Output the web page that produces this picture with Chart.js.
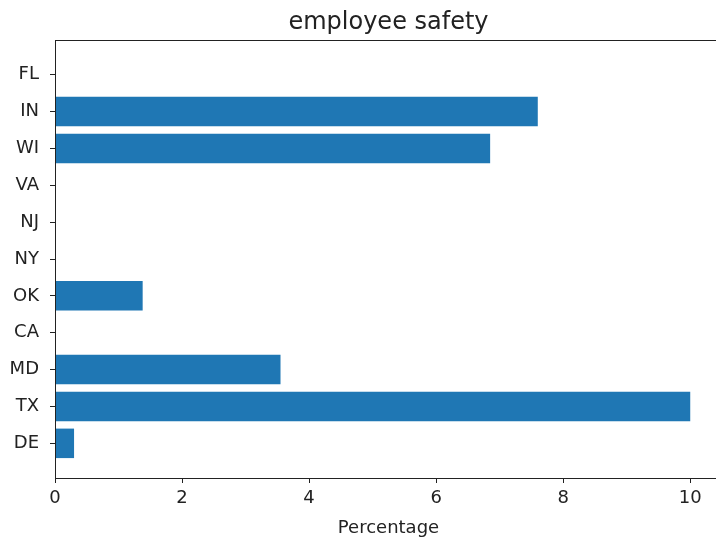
<!DOCTYPE html>
<html>
<head>
<meta charset="utf-8">
<script src="https://cdn.jsdelivr.net/npm/chart.js@4.4.1/dist/chart.umd.min.js"></script>
<style>
  html, body { margin: 0; padding: 0; overflow: hidden; background: #fff; }
  #wrap { width: 730px; height: 542px; }
</style>
</head>
<body>
<div id="wrap"><canvas id="myChart"></canvas></div>
<script>
// states, top to bottom as in the picture
const states = ["FL", "IN", "WI", "VA", "NJ", "NY", "OK", "CA", "MD", "TX", "DE"];
const percentage = [0, 7.6, 6.85, 0, 0, 0, 1.38, 0, 3.55, 10, 0.3];
const xTicks = [0, 2, 4, 6, 8, 10];

const chart = document.getElementById("myChart");

// frame round the plot area (right side falls outside the window)
const frame = {
    id: 'frame',
    afterDraw(c) {
        const a = c.chartArea;
        const ctx = c.ctx;
        ctx.save();
        ctx.strokeStyle = '#222';
        ctx.lineWidth = 1;
        ctx.strokeRect(a.left + 0.5, a.top + 0.5, a.right - a.left, a.bottom - a.top);
        ctx.restore();
    }
};

let bargraph = new Chart(chart, {
    type: 'bar',
    data: {
        datasets: [{
            data: percentage.map((v, i) => ({ x: v, y: i })),
            backgroundColor: '#1f77b4',
            borderWidth: 0,
            barPercentage: 0.8,
            categoryPercentage: 1
        }]
    },
    plugins: [frame],
    options: {
        indexAxis: 'y',
        responsive: true,
        maintainAspectRatio: false,
        animation: false,
        layout: { padding: { left: 0, right: 8, top: 0, bottom: 0 } },
        plugins: {
            legend: { display: false },
            tooltip: { enabled: false }
        },
        scales: {
            x: {
                type: 'linear',
                min: 0,
                max: 10.5,
                border: { display: false },
                grid: { display: true, drawOnChartArea: false, drawTicks: true, tickLength: 5, color: '#222' },
                afterBuildTicks: s => { s.ticks = xTicks.map(v => ({ value: v })); },
                ticks: {
                    color: '#222',
                    padding: 5,
                    maxRotation: 0,
                    font: { family: 'DejaVu Sans', size: 18 }
                },
                title: {
                    display: true,
                    text: 'Percentage',
                    color: '#222',
                    font: { family: 'DejaVu Sans', size: 18 },
                    padding: { top: 2, bottom: 3 }
                },
                afterFit: s => { s.height = 64; }
            },
            // top axis only carries the chart title, centred over the plot
            top: {
                type: 'linear',
                position: 'top',
                min: 0,
                max: 10.5,
                border: { display: false },
                grid: { display: false },
                ticks: { display: false },
                title: {
                    display: true,
                    text: 'employee safety',
                    color: '#222',
                    font: { family: 'DejaVu Sans', size: 24 },
                    padding: { top: 8, bottom: 2 }
                },
                afterFit: s => { s.height = 40; }
            },
            y: {
                type: 'linear',
                reverse: true,
                offset: false,
                min: -0.94,
                max: 10.94,
                border: { display: false },
                grid: { display: true, offset: false, drawOnChartArea: false, drawTicks: true, tickLength: 5, color: '#222' },
                afterBuildTicks: s => { s.ticks = states.map((n, i) => ({ value: i })); },
                ticks: {
                    color: '#222',
                    padding: 11,
                    font: { family: 'DejaVu Sans', size: 18 },
                    callback: v => states[v]
                },
                afterFit: s => { s.width = 55; }
            }
        }
    }
});
</script>
</body>
</html>
